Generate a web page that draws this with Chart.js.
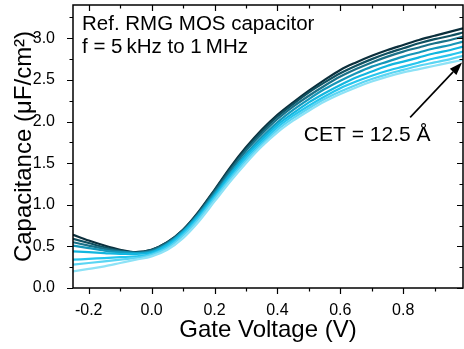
<!DOCTYPE html>
<html>
<head>
<meta charset="utf-8">
<script src="https://cdn.jsdelivr.net/npm/chart.js@4"></script>
<style>
  html, body { margin: 0; padding: 0; background: #fff; }
  #wrap { width: 464px; height: 349px; }
</style>
</head>
<body>
<div id="wrap"><canvas id="c" width="464" height="349"></canvas></div>
<script>
// gate voltage (V)
const voltage = [-0.25, -0.2, -0.15, -0.1, -0.05, 0, 0.05, 0.1, 0.15, 0.2, 0.25, 0.3, 0.35, 0.4, 0.45, 0.5, 0.55, 0.6, 0.65, 0.7, 0.75, 0.8, 0.85, 0.9, 0.95, 0.99]

// capacitance (uF/cm2), lowest frequency (darkest) first
const c1 = [0.64, 0.57, 0.51, 0.46, 0.43, 0.46, 0.55, 0.70, 0.92, 1.18, 1.45, 1.69, 1.90, 2.08, 2.23, 2.37, 2.50, 2.62, 2.71, 2.79, 2.86, 2.92, 2.98, 3.03, 3.08, 3.12]
const c2 = [0.59, 0.54, 0.49, 0.45, 0.43, 0.46, 0.55, 0.70, 0.91, 1.17, 1.43, 1.67, 1.88, 2.06, 2.21, 2.35, 2.47, 2.58, 2.67, 2.75, 2.82, 2.88, 2.94, 2.99, 3.03, 3.07]
const c3 = [0.55, 0.51, 0.47, 0.44, 0.42, 0.45, 0.54, 0.69, 0.90, 1.15, 1.41, 1.65, 1.85, 2.03, 2.18, 2.31, 2.43, 2.54, 2.63, 2.71, 2.78, 2.84, 2.89, 2.94, 2.98, 3.02]
const c4 = [0.51, 0.48, 0.45, 0.43, 0.42, 0.44, 0.53, 0.68, 0.89, 1.13, 1.38, 1.61, 1.81, 1.99, 2.14, 2.27, 2.39, 2.49, 2.58, 2.66, 2.72, 2.78, 2.83, 2.88, 2.92, 2.96]
const c5 = [0.44, 0.43, 0.42, 0.41, 0.41, 0.43, 0.52, 0.67, 0.87, 1.11, 1.36, 1.59, 1.78, 1.96, 2.10, 2.23, 2.34, 2.44, 2.53, 2.60, 2.67, 2.72, 2.77, 2.82, 2.86, 2.90]
const c6 = [0.34, 0.35, 0.36, 0.37, 0.38, 0.41, 0.50, 0.65, 0.85, 1.09, 1.33, 1.56, 1.75, 1.93, 2.07, 2.19, 2.30, 2.40, 2.48, 2.55, 2.61, 2.66, 2.71, 2.76, 2.80, 2.84]
const c7 = [0.28, 0.30, 0.32, 0.34, 0.36, 0.40, 0.48, 0.63, 0.83, 1.07, 1.31, 1.53, 1.72, 1.90, 2.04, 2.16, 2.27, 2.36, 2.44, 2.51, 2.57, 2.62, 2.67, 2.71, 2.75, 2.79]
const c8 = [0.20, 0.23, 0.26, 0.30, 0.34, 0.38, 0.46, 0.60, 0.80, 1.04, 1.28, 1.50, 1.70, 1.87, 2.01, 2.13, 2.24, 2.33, 2.41, 2.48, 2.54, 2.59, 2.63, 2.67, 2.71, 2.74]
const curves = [c1, c2, c3, c4, c5, c6, c7, c8]
const colors = ['#0b2f3c', '#0f5060', '#1a7188', '#1596b8', '#12b6df', '#27c6ee', '#5ad5f3', '#8de2f6']

const xTicks = [-0.2, -0.1, 0, 0.1, 0.2, 0.3, 0.4, 0.5, 0.6, 0.7, 0.8, 0.9]
const yTicks = [0, 0.25, 0.5, 0.75, 1, 1.25, 1.5, 1.75, 2, 2.25, 2.5, 2.75, 3, 3.25]

const FONT = "'Liberation Sans', Arial, Helvetica, sans-serif"

function isMajor(v, step) {
    return Math.abs(Math.round(v / step) * step - v) < 1e-6
}

const framePlugin = {
    id: 'frame',
    afterDatasetsDraw(chart) {
        const ctx = chart.ctx
        const a = chart.chartArea
        const xs = chart.scales.x
        const ys = chart.scales.y
        ctx.save()
        ctx.strokeStyle = '#000'
        ctx.lineWidth = 1.5
        ctx.strokeRect(a.left, a.top, a.right - a.left, a.bottom - a.top)
        ctx.lineWidth = 1.2
        ctx.beginPath()
        xTicks.forEach(v => {
            const px = Math.round(xs.getPixelForValue(v)) + 0.5
            const len = isMajor(v, 0.2) ? 6 : 3.5
            ctx.moveTo(px, a.bottom); ctx.lineTo(px, a.bottom + len)
            ctx.moveTo(px, a.top); ctx.lineTo(px, a.top + len)
        })
        yTicks.forEach(v => {
            const py = Math.round(ys.getPixelForValue(v)) + 0.5
            const len = isMajor(v, 0.5) ? 6 : 3.5
            ctx.moveTo(a.left, py); ctx.lineTo(a.left - len, py)
            ctx.moveTo(a.right, py); ctx.lineTo(a.right - len, py)
        })
        ctx.stroke()

        // labels
        ctx.fillStyle = '#000'
        ctx.textBaseline = 'alphabetic'
        ctx.textAlign = 'left'
        ctx.font = '20.5px ' + FONT
        ctx.fillText('Ref. RMG MOS capacitor', a.left + 9, a.top + 25)
        ctx.fillText('f = 5\u2009kHz to 1\u2009MHz', a.left + 9, a.top + 48)
        ctx.font = '21px ' + FONT
        ctx.fillText('CET = 12.5 \u00C5', xs.getPixelForValue(0.484), ys.getPixelForValue(1.77))

        // arrow
        const x0 = xs.getPixelForValue(0.822), y0 = ys.getPixelForValue(2.05)
        const x1 = xs.getPixelForValue(0.987), y1 = ys.getPixelForValue(2.71)
        const ang = Math.atan2(y1 - y0, x1 - x0)
        const hl = 13, hw = 4.5
        const bx = x1 - hl * Math.cos(ang), by = y1 - hl * Math.sin(ang)
        ctx.lineWidth = 1.6
        ctx.beginPath()
        ctx.moveTo(x0, y0); ctx.lineTo(bx, by)
        ctx.stroke()
        ctx.beginPath()
        ctx.moveTo(x1, y1)
        ctx.lineTo(bx + hw * Math.sin(ang), by - hw * Math.cos(ang))
        ctx.lineTo(bx - hw * Math.sin(ang), by + hw * Math.cos(ang))
        ctx.closePath()
        ctx.fill()
        ctx.restore()
    }
}

const datasets = curves.map((c, i) => ({
    data: voltage.map((v, j) => ({x: v, y: c[j]})),
    borderColor: colors[i],
    borderWidth: 2.2,
    pointRadius: 0,
    tension: 0.4,
    cubicInterpolationMode: 'monotone',
    fill: false
}))
// draw the lightest first so dark curves sit on top
datasets.reverse()

new Chart(document.getElementById('c'), {
    type: 'line',
    data: { datasets: datasets },
    options: {
        responsive: false,
        animation: false,
        layout: { padding: { top: 5, right: 1, left: 0, bottom: 0 } },
        plugins: { legend: { display: false }, tooltip: { enabled: false } },
        scales: {
            x: {
                type: 'linear',
                min: -0.25,
                max: 0.99,
                grid: { display: false },
                border: { display: false },
                afterBuildTicks: s => { s.ticks = xTicks.filter(v => isMajor(v, 0.2)).map(v => ({value: v})) },
                afterFit: s => { s.height = 61; s.paddingLeft = 0; s.paddingRight = 0 },
                ticks: {
                    color: '#000',
                    padding: 5,
                    font: { family: FONT, size: 16 },
                    callback: v => v.toFixed(1)
                },
                title: {
                    display: true,
                    text: 'Gate Voltage (V)',
                    color: '#000',
                    font: { family: FONT, size: 24 },
                    padding: { top: 0, bottom: 4 }
                }
            },
            y: {
                type: 'linear',
                min: 0,
                max: 3.4,
                grid: { display: false },
                border: { display: false },
                afterBuildTicks: s => { s.ticks = yTicks.filter(v => isMajor(v, 0.5)).map(v => ({value: v})) },
                afterFit: s => { s.width = 73; s.paddingTop = 0; s.paddingBottom = 0 },
                ticks: {
                    color: '#000',
                    padding: 10,
                    font: { family: FONT, size: 16 },
                    callback: v => v.toFixed(1)
                },
                title: {
                    display: true,
                    text: 'Capacitance (\u03BCF/cm\u00B2)',
                    color: '#000',
                    font: { family: FONT, size: 24 },
                    padding: { top: 10, bottom: 0 }
                }
            }
        }
    },
    plugins: [framePlugin]
});
</script>
</body>
</html>
